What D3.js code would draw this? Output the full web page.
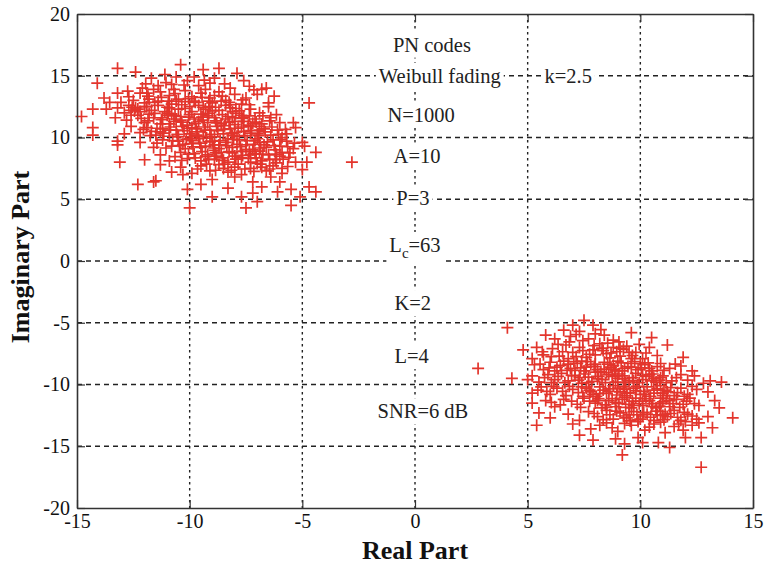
<!DOCTYPE html>
<html>
<head>
<meta charset="utf-8">
<script src="https://cdn.jsdelivr.net/npm/d3@7/dist/d3.min.js"></script>
<style>
  html, body { margin: 0; padding: 0; background: #fff; }
  svg { display: block; }
</style>
</head>
<body>
<svg id="chart" width="764" height="566"></svg>
<script>
// Axis ranges and ticks
const xTicks = [-15, -10, -5, 0, 5, 10, 15];
const yTicks = [-20, -15, -10, -5, 0, 5, 10, 15, 20];

// Received symbols, cluster near (-9, 10)
const clusterA = [
  [-13.2,15.6],[-12.4,15.3],[-11.7,14.8],[-11.1,15.1],[-10.4,15.9],[-10.1,14.6],[-9.4,15.5],[-8.7,15.6],[-9.1,14.4],[-8.2,14.0],
  [-10.8,14.3],[-11.4,14.2],[-9.8,14.9],[-8.9,14.8],[-7.6,14.6],[-6.6,14.0],[-12.1,14.0],[-10.6,14.9],[-7.9,15.2],[-9.6,14.2],
  [-14.1,14.4],
  [-13.2,13.6],[-13.8,13.2],[-12.7,13.3],[-12.2,13.6],[-11.8,13.1],[-11.3,13.7],[-10.9,13.4],[-10.5,13.1],[-10.2,13.8],[-9.9,13.3],
  [-9.5,13.6],[-9.1,13.2],[-8.7,13.7],[-8.4,13.0],[-8.0,13.5],[-7.5,13.2],[-7.0,13.5],[-6.5,12.8],[-6.8,13.9],[-11.6,13.9],
  [-10.7,13.9],[-9.3,13.9],[-12.5,13.0],[-8.9,13.4],
  [-14.3,12.3],[-13.2,12.4],[-12.7,12.6],[-12.6,12.2],[-12.4,12.4],[-12.0,12.8],[-11.7,12.2],[-11.4,12.6],[-11.1,12.1],[-10.8,12.7],
  [-10.5,12.3],[-10.2,12.9],[-9.9,12.1],[-9.6,12.6],[-9.3,12.3],[-9.0,12.8],[-8.7,12.2],[-8.4,12.6],[-8.1,12.1],[-7.7,12.7],
  [-7.3,12.3],[-6.9,12.0],[-6.5,12.5],[-4.7,12.8],[-12.9,12.0],[-11.9,12.5],[-10.9,12.4],[-10.0,12.5],[-9.1,12.5],[-8.2,12.4],
  [-14.8,11.7],[-12.8,11.4],[-12.3,11.8],[-12.0,11.2],[-11.6,11.6],[-11.3,11.1],[-11.0,11.8],[-10.7,11.3],[-10.4,11.7],[-10.1,11.0],
  [-9.8,11.5],[-9.5,11.9],[-9.2,11.2],[-8.9,11.6],[-8.6,11.1],[-8.3,11.7],[-8.0,11.3],[-7.7,11.8],[-7.4,11.0],[-7.1,11.5],
  [-6.8,11.1],[-6.4,11.6],[-6.0,11.2],[-5.4,11.2],[-13.3,11.6],[-11.8,11.9],[-10.6,11.5],[-9.4,11.4],[-8.1,11.6],[-7.6,11.3],
  [-10.9,11.1],
  [-14.3,10.8],[-14.3,10.2],[-12.6,10.9],[-12.2,10.4],[-11.9,10.8],[-11.5,10.2],[-11.2,10.7],[-10.9,10.1],[-10.6,10.6],[-10.3,10.9],
  [-10.0,10.3],[-9.7,10.7],[-9.4,10.1],[-9.1,10.6],[-8.8,10.9],[-8.5,10.3],[-8.2,10.7],[-7.9,10.1],[-7.6,10.5],[-7.3,10.9],
  [-7.0,10.3],[-6.7,10.7],[-6.4,10.2],[-6.1,10.6],[-5.7,10.3],[-5.3,10.8],[-11.7,10.5],[-9.9,10.8],[-8.0,10.4],[-6.9,10.9],
  [-5.9,10.0],[-12.9,10.3],
  [-13.2,9.7],[-13.2,9.4],[-12.2,9.6],[-11.6,9.2],[-11.2,9.8],[-10.8,9.3],[-10.5,9.7],[-10.2,9.1],[-9.9,9.5],[-9.6,9.9],
  [-9.3,9.3],[-9.0,9.7],[-8.7,9.1],[-8.4,9.6],[-8.1,9.2],[-7.8,9.8],[-7.5,9.4],[-7.2,9.0],[-6.9,9.6],[-6.6,9.2],
  [-6.3,9.8],[-6.0,9.3],[-5.7,9.7],[-5.4,9.1],[-5.0,9.6],[-8.9,9.4],[-7.0,9.9],[-6.2,9.0],[-10.0,9.9],[-4.9,9.3],
  [-13.1,8.0],[-12.0,8.2],[-11.3,8.6],[-10.9,8.1],[-10.4,8.8],[-10.1,8.3],[-9.8,8.7],[-9.5,8.1],[-9.2,8.6],[-8.9,8.2],
  [-8.6,8.8],[-8.3,8.0],[-8.0,8.5],[-7.7,8.9],[-7.4,8.3],[-7.1,8.7],[-6.8,8.1],[-6.5,8.6],[-6.2,8.2],[-5.9,8.8],
  [-5.6,8.4],[-5.3,8.0],[-4.4,8.8],[-4.8,8.0],[-2.8,8.0],[-6.0,8.5],[-7.3,8.0],[-8.8,8.5],
  [-11.3,7.8],[-10.8,7.2],[-10.4,7.6],[-9.9,7.1],[-9.5,7.7],[-9.1,7.3],[-8.7,7.8],[-8.3,7.2],[-8.0,7.6],[-7.7,7.0],
  [-7.3,7.5],[-7.0,7.9],[-6.6,7.3],[-6.3,7.7],[-5.9,7.1],[-5.9,7.5],[-5.0,7.4],[-8.5,7.5],[-6.8,7.6],
  [-12.3,6.2],[-11.6,6.4],[-11.5,6.5],[-10.3,7.0],[-9.5,6.2],[-9.0,6.6],[-8.3,5.9],[-7.7,5.2],[-7.2,6.4],[-6.8,6.0],
  [-6.0,6.4],[-6.1,5.6],[-5.5,5.8],[-5.1,5.2],[-4.7,6.0],[-4.4,5.6],[-7.2,5.5],[-7.0,4.8],[-9.0,5.2],[-10.1,5.8],
  [-8.0,6.8],[-6.4,6.8],
  [-10.0,4.3],[-7.5,4.3],[-5.5,4.5],
  [-11.95,14.35],[-11.05,14.45],[-10.25,14.25],[-9.35,14.65],[-8.45,14.35],[-7.35,14.15],[-12.75,13.75],[-7.15,13.85],[-6.25,13.35],
  [-13.55,12.85],[-13.05,12.85],[-13.7,12.3],
  [-12.45,12.15],[-12.55,12.45],[-12.3,12.3],[-11.85,13.35],[-11.55,12.85],[-11.25,13.25],[-10.95,12.95],[-10.65,13.55],[-10.35,12.65],[-10.05,13.15],
  [-9.75,12.85],[-9.45,13.25],[-9.15,12.95],[-8.85,12.45],[-8.55,13.35],[-8.25,12.85],[-7.95,12.35],[-7.65,13.05],[-7.35,12.65],
  [-12.15,11.55],[-11.85,11.35],[-11.55,11.95],[-11.25,11.45],[-10.95,11.95],[-10.65,11.75],[-10.35,11.25],[-10.05,11.65],[-9.75,11.15],[-9.45,11.65],
  [-9.15,11.95],[-8.85,11.35],[-8.55,11.85],[-8.25,11.25],[-7.95,11.95],[-7.65,11.55],[-7.35,11.75],[-7.05,11.25],[-6.75,11.75],[-6.45,11.35],[-6.15,11.85],
  [-12.05,10.65],[-11.75,10.15],[-11.45,10.75],[-11.15,10.35],[-10.85,10.85],[-10.55,10.25],[-10.25,10.55],[-9.95,10.05],[-9.65,10.45],[-9.35,10.85],
  [-9.05,10.25],[-8.75,10.55],[-8.45,10.95],[-8.15,10.35],[-7.85,10.75],[-7.55,10.15],[-7.25,10.55],[-6.95,10.15],[-6.65,10.45],[-6.35,10.85],
  [-6.05,10.25],[-5.75,10.65],
  [-11.45,9.55],[-11.05,9.15],[-10.75,9.75],[-10.45,9.35],[-10.15,9.85],[-9.85,9.25],[-9.55,9.55],[-9.25,9.95],[-8.95,9.15],[-8.65,9.75],
  [-8.35,9.35],[-8.05,9.85],[-7.75,9.25],[-7.45,9.75],[-7.15,9.45],[-6.85,9.15],[-6.55,9.65],[-6.25,9.35],[-5.95,9.85],[-5.65,9.25],[-5.35,9.55],
  [-10.65,8.45],[-10.35,8.15],[-10.05,8.65],[-9.75,8.35],[-9.45,8.85],[-9.15,8.25],[-8.85,8.75],[-8.55,8.35],[-8.25,8.85],[-7.95,8.25],
  [-7.65,8.55],[-7.35,8.85],[-7.05,8.35],[-6.75,8.65],[-6.45,8.25],[-6.15,8.65],[-5.85,8.25],[-5.55,8.75],
  [-9.65,7.45],[-9.25,7.85],[-8.85,7.35],[-8.45,7.85],[-8.15,7.35],[-7.85,7.85],[-7.55,7.45],[-7.15,7.25],[-6.85,7.85],[-6.45,7.45],
  [-6.15,7.95],[-5.65,7.65],
  [-11.4,12.95],[-11.0,12.45],[-10.6,12.95],[-10.2,12.35],[-9.8,12.95],[-9.4,12.45],[-9.0,12.15],[-8.6,12.95],[-8.2,12.65],[-7.8,12.15],
  [-11.2,11.6],[-10.8,11.9],[-10.4,11.4],[-10.0,11.85],[-9.6,11.3],[-9.2,11.75],[-8.8,11.2],[-8.4,11.5],[-8.0,11.05],[-7.6,11.65],[-7.2,11.15],
  [-11.3,10.45],[-10.9,10.6],[-10.5,10.05],[-10.1,10.75],[-9.7,10.2],[-9.3,10.6],[-8.9,10.05],[-8.5,10.65],[-8.1,10.15],[-7.7,10.85],[-7.3,10.35],[-6.9,10.6],
  [-10.3,9.45],[-9.9,9.75],[-9.5,9.2],[-9.1,9.65],[-8.7,9.4],[-8.3,9.9],[-7.9,9.45],[-7.5,9.05],[-7.1,9.75],[-6.7,9.4],
  [-9.3,8.45],[-8.9,8.95],[-8.5,8.15],[-8.1,8.75],[-7.7,8.35],[-7.3,8.6],[-6.9,8.9],
  [-12.2,12.1],[-12.0,12.5],[-12.6,11.8],[-11.9,13.6]
];

// Received symbols, cluster near (9, -10)
const clusterB = [
  [4.1,-5.4],[2.8,-8.7],[4.3,-9.5],[4.8,-7.2],[12.7,-16.7],[14.1,-12.7],[9.2,-15.7],[13.6,-9.8],
  [5.8,-6.0],[6.6,-5.6],[7.0,-5.2],[7.5,-4.8],[7.9,-5.2],[7.3,-5.7],[8.0,-5.9],[8.4,-6.0],[9.6,-5.8],[10.5,-6.2],
  [6.2,-6.3],[6.9,-6.1],[8.8,-6.4],[7.7,-6.3],
  [5.4,-7.0],[5.7,-7.6],[6.1,-7.1],[6.4,-7.7],[6.7,-6.8],[7.0,-7.4],[7.3,-7.0],[7.6,-7.8],[7.9,-7.2],[8.2,-6.7],
  [8.5,-7.5],[8.8,-7.0],[9.1,-7.7],[9.4,-6.9],[9.8,-7.4],[10.1,-7.9],[10.4,-7.0],[11.2,-6.8],[11.9,-7.8],[5.2,-7.9],
  [6.8,-7.9],[8.0,-7.6],[9.6,-7.9],
  [5.3,-8.4],[5.7,-8.8],[6.0,-8.2],[6.3,-8.6],[6.6,-8.1],[6.9,-8.7],[7.2,-8.3],[7.5,-8.9],[7.8,-8.4],[8.1,-8.8],
  [8.4,-8.2],[8.7,-8.6],[9.0,-8.1],[9.3,-8.7],[9.6,-8.3],[9.9,-8.8],[10.2,-8.4],[10.5,-8.9],[10.9,-8.3],[11.3,-8.7],
  [11.8,-8.5],[12.3,-8.9],[6.2,-8.9],[8.9,-8.9],[7.4,-8.1],
  [5.2,-9.3],[5.5,-9.8],[5.9,-9.2],[6.2,-9.6],[6.5,-9.1],[6.8,-9.7],[7.1,-9.3],[7.4,-9.9],[7.7,-9.4],[8.0,-9.0],
  [8.3,-9.6],[8.6,-9.2],[8.9,-9.8],[9.2,-9.3],[9.5,-9.7],[9.8,-9.1],[10.1,-9.6],[10.4,-9.2],[10.7,-9.8],[11.0,-9.3],
  [11.4,-9.7],[11.8,-9.2],[12.4,-9.3],[13.1,-9.7],[12.8,-9.9],[5.0,-9.6],[9.0,-9.5],[10.6,-9.5],
  [5.2,-10.7],[5.6,-10.2],[6.0,-10.8],[6.3,-10.3],[6.7,-10.9],[7.0,-10.4],[7.6,-10.3],[7.9,-10.8],[8.2,-10.2],[8.5,-10.7],
  [8.8,-10.1],[9.1,-10.6],[9.4,-10.9],[9.7,-10.3],[10.0,-10.8],[10.3,-10.2],[10.6,-10.7],[10.9,-10.1],[11.2,-10.6],[11.5,-10.9],
  [11.8,-10.3],[12.1,-10.8],[12.5,-10.4],[13.0,-10.6],[9.3,-10.4],[11.0,-10.9],
  [5.2,-11.5],[5.8,-11.3],[6.2,-11.8],[6.6,-11.2],[7.2,-11.6],[7.5,-11.1],[8.0,-11.5],[8.3,-11.9],[8.6,-11.3],[8.9,-11.8],
  [9.2,-11.2],[9.5,-11.6],[9.8,-11.1],[10.1,-11.7],[10.4,-11.3],[10.7,-11.9],[11.0,-11.4],[11.3,-11.8],[11.6,-11.2],[11.9,-11.6],
  [12.2,-11.1],[12.6,-11.7],[13.3,-11.3],[13.5,-11.9],[9.6,-11.9],[10.9,-11.1],
  [5.5,-12.3],[6.0,-12.7],[6.8,-12.4],[7.3,-12.9],[7.7,-12.2],[8.1,-12.6],[8.5,-12.1],[8.8,-12.8],[9.1,-12.3],[9.4,-12.7],
  [9.7,-12.2],[10.0,-12.8],[10.3,-12.4],[10.6,-12.9],[10.9,-12.2],[11.2,-12.6],[11.5,-12.1],[11.8,-12.9],[12.1,-12.4],[12.5,-12.8],
  [13.0,-12.6],[12.3,-13.3],[11.0,-12.5],
  [5.4,-13.3],[7.0,-13.2],[7.8,-13.6],[8.5,-13.1],[9.0,-13.8],[9.6,-13.3],[10.2,-13.7],[10.6,-13.2],[11.1,-13.9],[11.5,-13.4],
  [12.0,-13.0],[13.2,-13.5],[9.9,-13.0],[11.9,-13.7],
  [7.3,-14.1],[7.9,-14.5],[8.9,-14.4],[9.3,-14.8],[9.9,-14.3],[10.1,-14.7],[10.8,-14.7],[11.3,-15.1],[12.0,-14.3],[12.7,-14.3],
  [6.35,-6.75],[6.85,-6.55],[7.45,-6.45],[7.95,-6.85],[8.55,-6.65],[9.05,-6.55],[9.95,-6.75],[7.15,-5.95],[8.25,-5.55],
  [5.65,-7.35],[6.05,-7.75],[6.55,-7.35],[7.15,-7.75],[7.45,-7.25],[7.75,-7.55],[8.35,-7.25],[8.65,-7.85],[8.95,-7.35],[9.25,-7.15],
  [9.65,-7.65],[10.25,-7.45],[10.75,-7.65],
  [5.55,-8.35],[5.95,-8.65],[6.45,-8.45],[6.75,-8.85],[7.05,-8.15],[7.35,-8.65],[7.65,-8.15],[7.95,-8.55],[8.25,-8.95],[8.55,-8.35],
  [8.85,-8.75],[9.15,-8.25],[9.45,-8.55],[9.75,-8.15],[10.05,-8.65],[10.35,-8.25],[10.75,-8.55],[11.05,-8.85],[11.55,-8.35],
  [5.75,-9.45],[6.05,-9.85],[6.35,-9.35],[6.65,-9.85],[6.95,-9.25],[7.25,-9.65],[7.55,-9.15],[7.85,-9.75],[8.15,-9.35],[8.45,-9.85],
  [8.75,-9.35],[9.05,-9.15],[9.35,-9.85],[9.65,-9.45],[9.95,-9.85],[10.25,-9.35],[10.55,-9.15],[10.85,-9.65],[11.15,-9.85],[11.6,-9.45],[12.1,-9.65],
  [5.45,-10.45],[5.85,-10.55],[6.15,-10.15],[6.55,-10.55],[6.85,-10.15],[7.25,-10.65],[7.45,-10.95],[7.75,-10.45],[8.05,-10.95],[8.35,-10.45],
  [8.65,-10.35],[8.95,-10.85],[9.25,-10.15],[9.55,-10.65],[9.85,-10.15],[10.15,-10.55],[10.45,-10.95],[10.75,-10.35],[11.05,-10.45],[11.35,-10.25],
  [11.65,-10.65],[11.95,-10.95],[12.3,-10.15],
  [6.05,-11.45],[6.45,-11.65],[6.95,-11.35],[7.35,-11.85],[7.75,-11.35],[8.15,-11.15],[8.45,-11.65],[8.75,-11.15],[9.05,-11.55],[9.35,-11.85],
  [9.65,-11.35],[9.95,-11.55],[10.25,-11.15],[10.55,-11.55],[10.85,-11.75],[11.15,-11.15],[11.45,-11.55],[11.75,-11.85],[12.05,-11.35],[12.4,-11.55],
  [7.95,-12.35],[8.35,-12.85],[8.65,-12.45],[8.95,-12.15],[9.25,-12.55],[9.55,-12.95],[9.85,-12.45],[10.15,-12.25],[10.45,-12.65],[10.75,-12.45],
  [11.05,-12.85],[11.35,-12.35],[11.65,-12.65],[11.95,-12.25],[12.3,-12.55],
  [8.2,-13.3],[8.75,-13.5],[9.3,-13.15],[10.4,-13.45],[10.9,-13.05],[11.7,-13.2],[12.6,-13.1],
  [7.6,-8.6],[8.0,-8.35],[8.4,-8.75],[8.8,-8.45],[9.2,-8.9],[9.6,-8.6],[10.0,-8.3],[10.4,-8.7],
  [7.3,-9.45],[7.7,-9.85],[8.1,-9.55],[8.5,-9.05],[8.9,-9.3],[9.3,-9.55],[9.7,-9.7],[10.1,-9.25],[10.5,-9.7],[10.9,-9.45],
  [7.4,-10.2],[7.8,-10.6],[8.2,-10.75],[8.6,-10.55],[9.0,-10.3],[9.4,-10.7],[9.8,-10.5],[10.2,-10.8],[10.6,-10.45],[11.0,-10.7],
  [8.1,-11.3],[8.5,-11.85],[8.9,-11.45],[9.3,-11.05],[9.7,-11.7],[10.1,-11.35],[10.5,-11.8],[10.9,-11.55],[11.3,-11.3],
  [8.3,-7.05],[8.7,-7.45],[9.1,-7.05],[9.5,-7.4],[7.1,-8.85],[6.8,-8.35],
  [9.5,-12.45],[10.1,-12.55],[10.7,-12.15],[11.1,-12.4],[9.9,-12.85]
];

// Simulation parameters printed inside the plot: [x, y (baseline), text]
const notes = [
  [0.75, 16.95, "PN codes"],
  [1.1, 14.44, "Weibull fading"],
  [6.8, 14.44, "k=2.5"],
  [0.27, 11.27, "N=1000"],
  [0.09, 7.95, "A=10"],
  [-0.09, 4.54, "P=3"],
  [0.0, 0.73, "L|c|=63"],
  [-0.1, -3.97, "K=2"],
  [-0.15, -8.27, "L=4"],
  [0.35, -12.73, "SNR=6 dB"]
];

const W = 764, H = 566;
const m = { left: 77, right: 11, top: 14, bottom: 58 };
const iw = W - m.left - m.right, ih = H - m.top - m.bottom;

const svg = d3.select("#chart");
const g = svg.append("g").attr("transform", `translate(${m.left},${m.top})`);

const x = d3.scaleLinear().domain([-15, 15]).range([0, iw]);
const y = d3.scaleLinear().domain([-20, 20]).range([ih, 0]);

const serif = "'Liberation Serif', 'Times New Roman', serif";
const red = "#e3352c";
const fmt = d => String(d);

// Grid
g.append("g").selectAll("line").data(yTicks.slice(1, -1)).join("line")
  .attr("x1", 0).attr("x2", iw)
  .attr("y1", d => y(d)).attr("y2", d => y(d))
  .attr("stroke", "#222").attr("stroke-width", 1.3)
  .attr("stroke-dasharray", "5,4");
g.append("g").selectAll("line").data(xTicks.slice(1, -1)).join("line")
  .attr("y1", 0).attr("y2", ih)
  .attr("x1", d => x(d)).attr("x2", d => x(d))
  .attr("stroke", "#222").attr("stroke-width", 1.4)
  .attr("stroke-dasharray", "2.5,3.5");

// Parameter labels with opaque boxes
const noteG = g.append("g");
notes.forEach(([nx, ny, t]) => {
  const grp = noteG.append("g");
  const txt = grp.append("text")
    .attr("x", x(nx)).attr("y", y(ny))
    .attr("text-anchor", "middle")
    .attr("font-family", serif).attr("font-size", 20.5).attr("fill", "#222");
  const parts = t.split("|");
  if (parts.length === 3) {
    txt.append("tspan").text(parts[0]);
    txt.append("tspan").attr("dy", 6).attr("font-size", 15).text(parts[1]);
    txt.append("tspan").attr("dy", -6).text(parts[2]);
  } else {
    txt.text(t);
  }
  const bb = txt.node().getBBox();
  grp.insert("rect", "text")
    .attr("x", bb.x - 3).attr("y", bb.y - 2)
    .attr("width", bb.width + 6).attr("height", bb.height + 4)
    .attr("fill", "#fff");
});

// Markers
const plus = "M-6,0H6M0,-6V6";
g.append("g").selectAll("path").data(clusterA.concat(clusterB)).join("path")
  .attr("d", plus)
  .attr("transform", d => `translate(${x(d[0])},${y(d[1])})`)
  .attr("fill", "none").attr("stroke", red).attr("stroke-width", 1.7);

// Frame and inward ticks
const axisColor = "#333";
const axBottom = g.append("g").attr("transform", `translate(0,${ih})`)
  .call(d3.axisBottom(x).tickValues(xTicks).tickFormat(fmt).tickSizeInner(-8).tickSizeOuter(0).tickPadding(10));
const axTop = g.append("g")
  .call(d3.axisTop(x).tickValues(xTicks).tickSizeInner(-8).tickSizeOuter(0).tickFormat(""));
const axLeft = g.append("g")
  .call(d3.axisLeft(y).tickValues(yTicks).tickFormat(fmt).tickSizeInner(-8).tickSizeOuter(0).tickPadding(7));
const axRight = g.append("g").attr("transform", `translate(${iw},0)`)
  .call(d3.axisRight(y).tickValues(yTicks).tickSizeInner(-8).tickSizeOuter(0).tickFormat(""));

[axBottom, axTop, axLeft, axRight].forEach(a => {
  a.select(".domain").attr("stroke", axisColor).attr("stroke-width", 1.6);
  a.selectAll(".tick line").attr("stroke", axisColor).attr("stroke-width", 1.2);
  a.selectAll("text").attr("font-family", serif).attr("font-size", 20).attr("fill", "#111");
});
axBottom.selectAll("text").attr("dy", "0.5em");
axLeft.selectAll("text").attr("dy", "0.32em");

// Axis titles
svg.append("text")
  .attr("x", m.left + iw / 2).attr("y", 559)
  .attr("text-anchor", "middle")
  .attr("font-family", serif).attr("font-weight", "bold").attr("font-size", 26)
  .attr("fill", "#111").text("Real Part");
svg.append("text")
  .attr("transform", `translate(29,${m.top + ih / 2 - 4}) rotate(-90)`)
  .attr("text-anchor", "middle")
  .attr("font-family", serif).attr("font-weight", "bold").attr("font-size", 26)
  .attr("fill", "#111").text("Imaginary Part");
</script>
</body>
</html>
